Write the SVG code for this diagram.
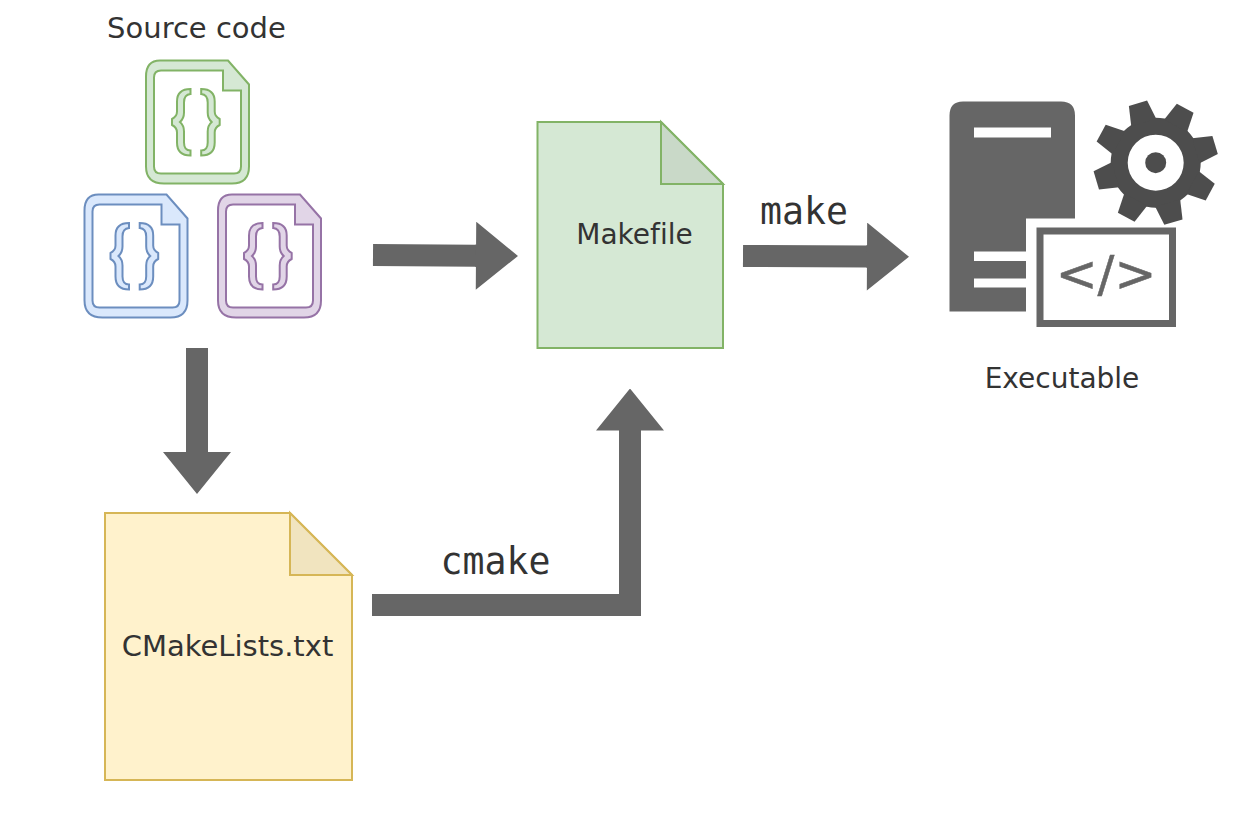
<svg xmlns="http://www.w3.org/2000/svg" xmlns:xlink="http://www.w3.org/1999/xlink" width="1234" height="816" viewBox="0 0 1234 816">
<style>
.lbl{font-family:"DejaVu Sans",sans-serif;font-size:29px;fill:#333333;text-anchor:middle;font-variant-ligatures:none}
.sm{font-size:28px}
.mono{font-family:"DejaVu Sans Mono",monospace;font-size:36.5px;fill:#333333;text-anchor:middle}
.conn{fill:none;stroke:#666666;stroke-width:22;stroke-linejoin:miter}
.doc{stroke-width:2}
.srv{fill:#666666}
.gear{fill:#4d4d4d}
.green{fill:#d5e8d4;stroke:#82b366}
.blue{fill:#dae8fc;stroke:#6c8ebf}
.purple{fill:#e1d5e7;stroke:#9673a6}
.yellow{fill:#fff2cc;stroke:#d6b656}
.src{stroke-width:2;fill-rule:evenodd}
</style>
<defs>
<marker id="head" markerUnits="userSpaceOnUse" markerWidth="43" markerHeight="68" refX="1" refY="34" orient="auto">
<polygon points="0,23 1,23 1,0 43,34 1,68 1,45 0,45" fill="#666666"/>
</marker>
<g id="srcIcon">
<path d="M14 0H82L103 24V106Q103 123 86 123H18Q0 123 0 106V16Q0 0 14 0ZM15 10Q8 10 8 17V106Q8 113 15 113H88Q95 113 95 106V30H77V10Z"/>
<path id="brace" d="M44.500 28.500V33.500Q38 34 38 42V52Q38 58 34 61.500Q38 65 38 71V82Q38 90 44.500 90V95Q31 95 31 82V72Q31 67 26 64.500V58.500Q31 56 31 51V41Q31 28.500 44.500 28.500Z"/>
<use xlink:href="#brace" href="#brace" transform="matrix(-1 0 0 1 99.700 0)"/>
</g>
<polygon id="tooth" points="-9.500,-62 9.500,-62 13,-42 -13,-42"/>
</defs>

<g id="connectors">
<path class="conn" d="M373 255L476 255.700" marker-end="url(#head)"/>
<path class="conn" d="M743 256L867 256.600" marker-end="url(#head)"/>
<path class="conn" d="M197 348V452" marker-end="url(#head)"/>
<path class="conn" d="M372 605H630V430.500" marker-end="url(#head)"/>
</g>

<g id="source-code">
<text class="lbl" x="196.500" y="38">Source code</text>
<use class="src green" xlink:href="#srcIcon" href="#srcIcon" x="146" y="60.500"/>
<use class="src blue" xlink:href="#srcIcon" href="#srcIcon" x="84.500" y="194.500"/>
<use class="src purple" xlink:href="#srcIcon" href="#srcIcon" x="218" y="194.500"/>
</g>

<g id="makefile">
<path class="doc green" d="M537.500 122H661L723 184V348H537.500Z"/>
<path class="doc" d="M661 122V184H723Z" fill="#c9d9c8" stroke="#82b366"/>
<text class="lbl sm" x="634.500" y="244">Makefile</text>
</g>

<g id="cmakelists">
<path class="doc yellow" d="M105 513H290L352 575V780H105Z"/>
<path class="doc" d="M290 513V575H352Z" fill="#f1e4bf" stroke="#d6b656"/>
<text class="lbl" x="227.500" y="656">CMakeLists.txt</text>
</g>

<g id="executable">
<path class="srv" d="M963 101.500H1061Q1075 101.500 1075 115.500V218.500H1026V251.500H974V261H1026V278.500H974V287.500H1026V311.500H949.500V115.500Q949.500 101.500 963 101.500ZM974 127.500V137.500H1051V127.500Z" fill-rule="evenodd"/>
<g class="gear" transform="translate(1155.700 162.700)">
<path d="M0-45A45 45 0 1 1 0 45A45 45 0 1 1 0-45ZM0-28A28 28 0 1 0 0 28A28 28 0 1 0 0-28Z" fill-rule="evenodd"/>
<circle r="10.500"/>
<use xlink:href="#tooth" href="#tooth" transform="rotate(-16.600)"/>
<use xlink:href="#tooth" href="#tooth" transform="rotate(28.400)"/>
<use xlink:href="#tooth" href="#tooth" transform="rotate(73.400)"/>
<use xlink:href="#tooth" href="#tooth" transform="rotate(118.400)"/>
<use xlink:href="#tooth" href="#tooth" transform="rotate(163.400)"/>
<use xlink:href="#tooth" href="#tooth" transform="rotate(208.400)"/>
<use xlink:href="#tooth" href="#tooth" transform="rotate(253.400)"/>
<use xlink:href="#tooth" href="#tooth" transform="rotate(298.400)"/>
</g>
<rect x="1040" y="231" width="132.500" height="92.500" fill="#ffffff" stroke="#666666" stroke-width="7"/>
<text x="1106" y="291" font-family="DejaVu Sans, sans-serif" font-size="50" fill="#666666" stroke="#666666" stroke-width="0.500" text-anchor="middle">&lt;/&gt;</text>
<text class="lbl sm" x="1062" y="388">Executable</text>
</g>

<g id="labels">
<text class="mono" x="804" y="224">make</text>
<text class="mono" x="495.500" y="574">cmake</text>
</g>
</svg>
